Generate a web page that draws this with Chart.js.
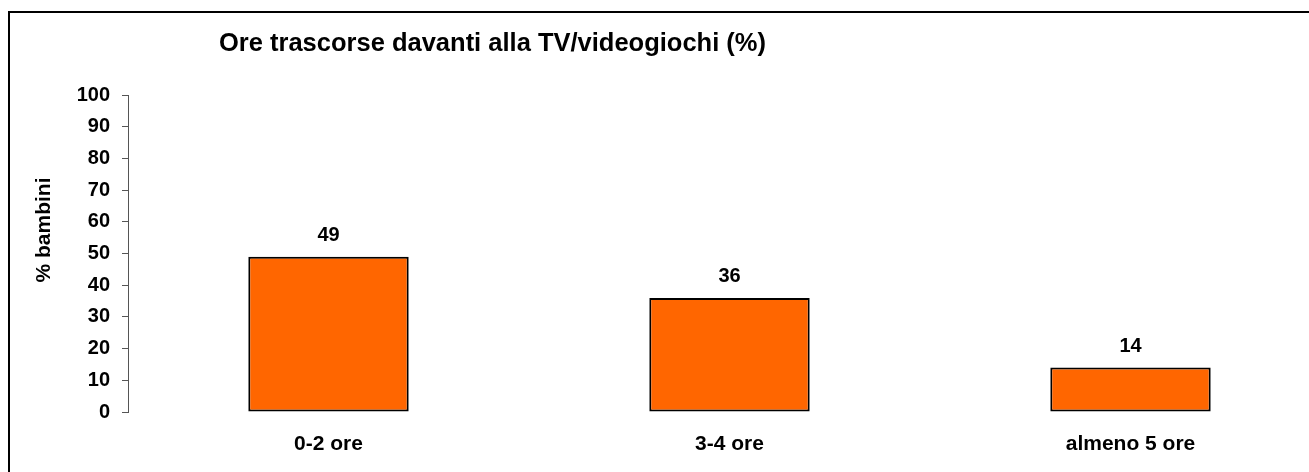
<!DOCTYPE html>
<html lang="it">
<head>
    <meta charset="UTF-8">
    <title>Ore davanti alla TV</title>
    <script src="https://cdn.jsdelivr.net/npm/chart.js"></script>
    <style>
        body { margin: 0; overflow: hidden; background: white; }
        #cornice {
            position: absolute;
            left: 8px;
            top: 11px;
            width: 1400px;
            height: 500px;
            border-left: 2px solid black;
            border-top: 2px solid black;
        }
        #grafico { position: absolute; left: 0; top: 0; }
    </style>
</head>
<body>
    <div id="cornice"></div>
    <canvas id="grafico" width="1340" height="472"></canvas>

    <script>
        const categorie = ['0-2 ore', '3-4 ore', 'almeno 5 ore'];
        const percentuali = [49, 36, 14];
        const tickY = [0, 10, 20, 30, 40, 50, 60, 70, 80, 90, 100];

        const titolo = 'Ore trascorse davanti alla TV/videogiochi (%)';
        const titoloY = '% bambini';
        const FONT = '"Liberation Sans", Arial, sans-serif';

        const testi = {
            id: 'testi',
            afterDatasetsDraw(chart) {
                const { ctx } = chart;
                ctx.save();
                ctx.fillStyle = 'black';
                // titolo
                ctx.font = 'bold 25.5px ' + FONT;
                ctx.textAlign = 'left';
                ctx.textBaseline = 'alphabetic';
                ctx.fillText(titolo, 219, 51);
                // titolo asse y
                ctx.font = 'bold 21px ' + FONT;
                ctx.translate(50, 230);
                ctx.rotate(-Math.PI / 2);
                ctx.textAlign = 'center';
                ctx.fillText(titoloY, 0, 0);
                ctx.restore();

                // etichette valori
                ctx.save();
                ctx.font = 'bold 20px ' + FONT;
                ctx.fillStyle = 'black';
                ctx.textAlign = 'center';
                ctx.textBaseline = 'alphabetic';
                const meta = chart.getDatasetMeta(0);
                meta.data.forEach((bar, i) => {
                    ctx.fillText(percentuali[i], bar.x, bar.y - 16);
                });
                ctx.restore();
            }
        };

        new Chart(document.getElementById('grafico'), {
            type: 'bar',
            data: {
                labels: categorie,
                datasets: [{
                    data: percentuali,
                    backgroundColor: '#FF6600',
                    borderColor: '#000000',
                    borderWidth: 2,
                    borderSkipped: false,
                    barPercentage: 1,
                    categoryPercentage: 0.4
                }]
            },
            options: {
                responsive: false,
                animation: false,
                layout: { padding: { left: 0, right: 9, top: 95, bottom: 0 } },
                plugins: {
                    legend: { display: false },
                    title: { display: false },
                    tooltip: { enabled: false }
                },
                scales: {
                    x: {
                        grid: { display: false },
                        border: { display: false },
                        ticks: {
                            color: 'black',
                            padding: 12,
                            font: { family: FONT, size: 21, weight: 'bold' }
                        },
                        afterFit(scale) { scale.height = 60; }
                    },
                    y: {
                        min: 0,
                        max: 100,
                        afterBuildTicks(scale) {
                            scale.ticks = tickY.map(v => ({ value: v }));
                        },
                        grid: {
                            drawOnChartArea: false,
                            drawTicks: true,
                            tickLength: 6,
                            color: '#555555',
                            lineWidth: 1
                        },
                        border: { display: true, color: '#555555', width: 1 },
                        ticks: {
                            color: 'black',
                            padding: 12,
                            font: { family: FONT, size: 20, weight: 'bold' }
                        },
                        afterFit(scale) { scale.width = 128; }
                    }
                }
            },
            plugins: [testi]
        });
    </script>
</body>
</html>
